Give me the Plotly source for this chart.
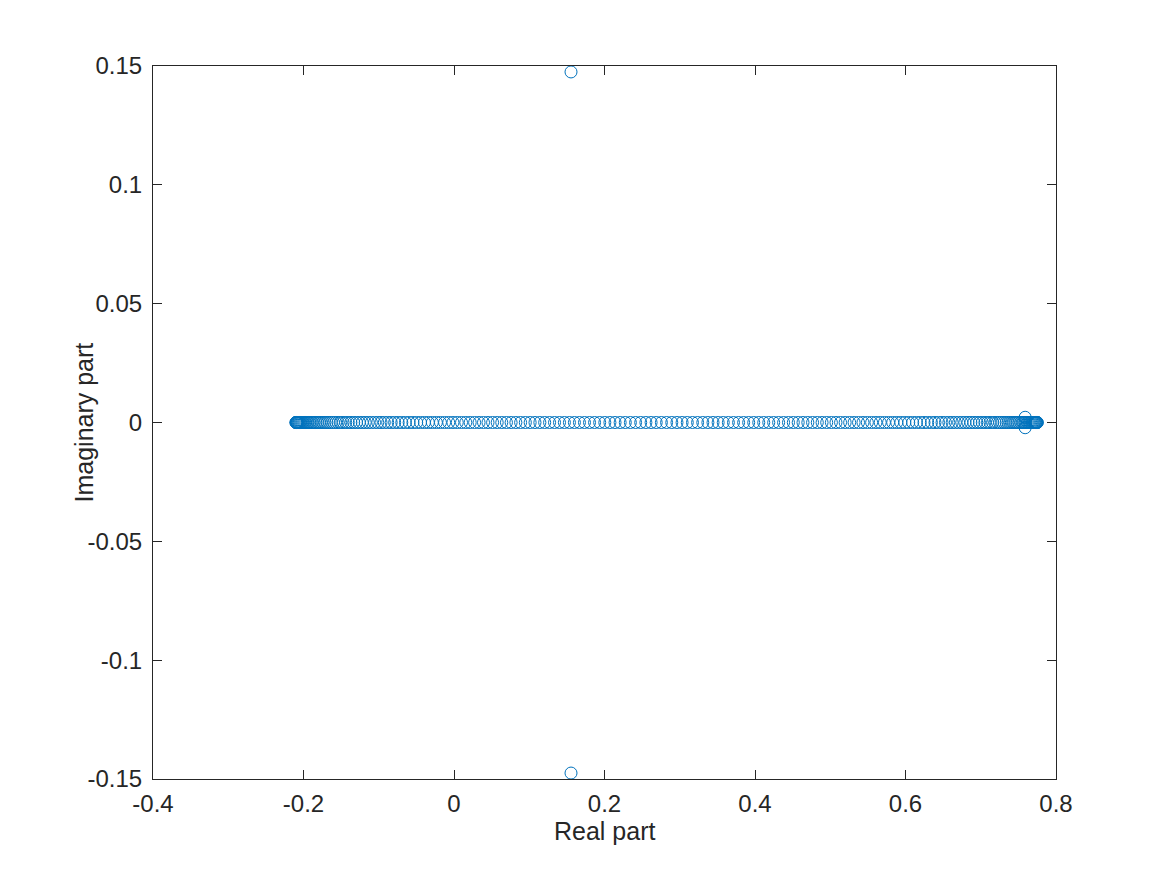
import plotly.graph_objects as go

# Eigenvalue real parts lying on the real axis (imaginary part 0)
real_axis_values = [
    -0.2100, -0.2099, -0.2097, -0.2094, -0.2090, -0.2085, -0.2080, -0.2073, -0.2065, -0.2057,
    -0.2047, -0.2037, -0.2025, -0.2013, -0.1999, -0.1985, -0.1970, -0.1954, -0.1937, -0.1919,
    -0.1900, -0.1880, -0.1859, -0.1837, -0.1815, -0.1791, -0.1767, -0.1741, -0.1715, -0.1688,
    -0.1660, -0.1631, -0.1602, -0.1571, -0.1540, -0.1507, -0.1474, -0.1440, -0.1405, -0.1370,
    -0.1333, -0.1296, -0.1258, -0.1219, -0.1180, -0.1139, -0.1098, -0.1056, -0.1013, -0.0970,
    -0.0926, -0.0881, -0.0835, -0.0789, -0.0742, -0.0694, -0.0645, -0.0596, -0.0546, -0.0496,
    -0.0445, -0.0393, -0.0341, -0.0288, -0.0234, -0.0180, -0.0125, -0.0070, -0.0014, 0.0043,
    0.0100, 0.0157, 0.0215, 0.0274, 0.0333, 0.0392, 0.0452, 0.0513, 0.0574, 0.0635,
    0.0697, 0.0759, 0.0822, 0.0885, 0.0948, 0.1012, 0.1076, 0.1141, 0.1205, 0.1270,
    0.1336, 0.1402, 0.1467, 0.1534, 0.1600, 0.1667, 0.1734, 0.1801, 0.1868, 0.1936,
    0.2004, 0.2072, 0.2140, 0.2208, 0.2276, 0.2344, 0.2413, 0.2481, 0.2550, 0.2619,
    0.2687, 0.2756, 0.2825,
    0.2894, 0.2963, 0.3031, 0.3100, 0.3169, 0.3237, 0.3306, 0.3374, 0.3442, 0.3510,
    0.3578, 0.3646, 0.3714, 0.3782, 0.3849, 0.3916, 0.3983, 0.4050, 0.4116, 0.4183,
    0.4248, 0.4314, 0.4380, 0.4445, 0.4509, 0.4574, 0.4638, 0.4702, 0.4765, 0.4828,
    0.4891, 0.4953, 0.5015, 0.5076, 0.5137, 0.5198, 0.5258, 0.5317, 0.5376, 0.5435,
    0.5493, 0.5550, 0.5607, 0.5664, 0.5720, 0.5775, 0.5830, 0.5884, 0.5938, 0.5991,
    0.6043, 0.6095, 0.6146, 0.6196, 0.6246, 0.6295, 0.6344, 0.6392, 0.6439, 0.6485,
    0.6531, 0.6576, 0.6620, 0.6663, 0.6706, 0.6748, 0.6789, 0.6830, 0.6869, 0.6908,
    0.6946, 0.6983, 0.7020, 0.7055, 0.7090, 0.7124, 0.7157, 0.7190, 0.7221, 0.7252,
    0.7281, 0.7310, 0.7338, 0.7365, 0.7391, 0.7417, 0.7441, 0.7465, 0.7487, 0.7509,
    0.7530, 0.7550, 0.7569, 0.7587, 0.7604, 0.7620, 0.7635, 0.7649, 0.7663, 0.7675,
    0.7687, 0.7697, 0.7707, 0.7715, 0.7723, 0.7730, 0.7735, 0.7740, 0.7744, 0.7747,
    0.7749, 0.7750,
]
real_axis_imag = [0.0] * len(real_axis_values)

# Complex conjugate pairs
complex_real = [0.1555, 0.1555, 0.7590, 0.7590]
complex_imag = [0.1475, -0.1475, 0.0022, -0.0022]

real_part = real_axis_values + complex_real
imag_part = real_axis_imag + complex_imag

x_tick_vals = [-0.4, -0.2, 0, 0.2, 0.4, 0.6, 0.8]
x_tick_text = ["-0.4", "-0.2", "0", "0.2", "0.4", "0.6", "0.8"]
y_tick_vals = [-0.15, -0.1, -0.05, 0, 0.05, 0.1, 0.15]
y_tick_text = ["-0.15", "-0.1", "-0.05", "0", "0.05", "0.1", "0.15"]

x_label = "Real part"
y_label = "Imaginary part"

blue = "#0072BD"
axis_col = "#262626"
font_family = "Liberation Sans, Arial, Helvetica, sans-serif"

fig = go.Figure()
fig.add_trace(go.Scatter(
    x=real_part, y=imag_part, mode="markers",
    marker=dict(symbol="circle-open", size=12, color=blue, line=dict(width=1, color=blue)),
    hoverinfo="x+y", showlegend=False,
))

axis_common = dict(
    showline=True, linecolor=axis_col, linewidth=1, mirror="ticks",
    ticks="inside", ticklen=9, tickwidth=1, tickcolor=axis_col,
    showgrid=False, zeroline=False, automargin=False,
    tickfont=dict(family=font_family, size=24, color=axis_col),
)

fig.update_layout(
    width=1167, height=875,
    paper_bgcolor="white", plot_bgcolor="white",
    margin=dict(l=145, r=119, t=58, b=104, autoexpand=False),
    font=dict(family=font_family, color=axis_col),
    xaxis=dict(range=[-0.4, 0.8], tickvals=x_tick_vals, ticktext=x_tick_text,
               ticklabelstandoff=3, **axis_common),
    yaxis=dict(range=[-0.15, 0.15], tickvals=y_tick_vals, ticktext=y_tick_text,
               ticklabelstandoff=5, **axis_common),
    annotations=[
        dict(text=x_label, xref="paper", yref="paper", x=0.5, y=0,
             xanchor="center", yanchor="middle", yshift=-52, showarrow=False,
             font=dict(family=font_family, size=25, color=axis_col)),
        dict(text=y_label, xref="paper", yref="paper", x=0, y=0.5,
             xanchor="center", yanchor="middle", xshift=-70, textangle=-90,
             showarrow=False,
             font=dict(family=font_family, size=25, color=axis_col)),
    ],
)

fig.write_html("out.html")
